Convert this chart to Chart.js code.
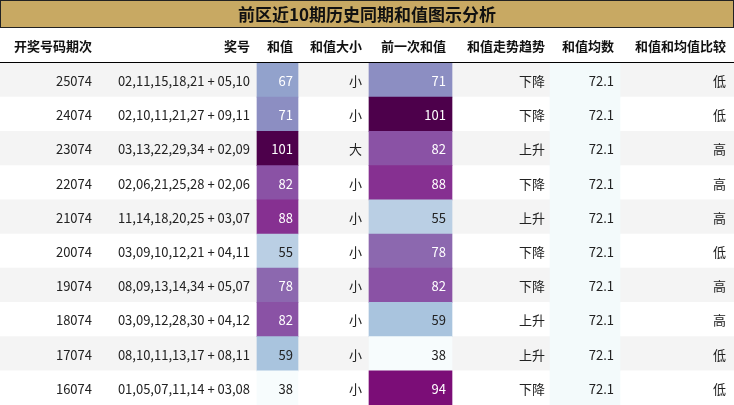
<!DOCTYPE html>
<html><head><meta charset="utf-8">
<script src="https://cdn.jsdelivr.net/npm/chart.js@4"></script>
<style>html,body{margin:0;padding:0;background:#fff}#c{display:block}</style>
</head><body>
<div style="width:734px;height:405px"><canvas id="c" width="734" height="405"></canvas></div>
<script>
const title = "前区近10期历史同期和值图示分析";
const headers = ["开奖号码期次","奖号","和值","和值大小","前一次和值","和值走势趋势","和值均数","和值和均值比较"];
const issues = ["25074","24074","23074","22074","21074","20074","19074","18074","17074","16074"];
const numbers = ["02,11,15,18,21 + 05,10","02,10,11,21,27 + 09,11","03,13,22,29,34 + 02,09","02,06,21,25,28 + 02,06","11,14,18,20,25 + 03,07","03,09,10,12,21 + 04,11","08,09,13,14,34 + 05,07","03,09,12,28,30 + 04,12","08,10,11,13,17 + 08,11","01,05,07,11,14 + 03,08"];
const sums = [67,71,101,82,88,55,78,82,59,38];
const sizes = ["小","小","大","小","小","小","小","小","小","小"];
const prevSums = [71,101,82,88,55,78,82,59,38,94];
const trends = ["下降","下降","上升","下降","上升","下降","下降","上升","上升","下降"];
const means = [72.1,72.1,72.1,72.1,72.1,72.1,72.1,72.1,72.1,72.1];
const compares = ["低","低","高","高","高","低","高","高","低","低"];

const stops = ["#f7fcfd","#e0ecf4","#bfd3e6","#9ebcda","#8c96c6","#8c6bb1","#88419d","#810f7c","#4d004b"];
function hex(h){return [1,3,5].map(i=>parseInt(h.substr(i,2),16));}
function cmap(v){
  let t=(v-38)/(101-38); t=Math.max(0,Math.min(1,t));
  const p=t*(stops.length-1), i=Math.min(Math.floor(p),stops.length-2), f=p-i;
  const a=hex(stops[i]), b=hex(stops[i+1]);
  return `rgb(${a.map((x,k)=>Math.round(x+(b[k]-x)*f)).join(",")})`;
}
const colL=[257,369], colR=[298,452];
const rows = issues.map((_,i)=>i);
const tablePlugin = {
  id:'tbl',
  afterDraw(chart){
    const ctx=chart.ctx, ys=chart.scales.y;
    ctx.save();
    // title
    ctx.fillStyle="#c8a963"; ctx.fillRect(0,0,734,28);
    ctx.strokeStyle="#222"; ctx.lineWidth=1; ctx.strokeRect(0.5,0.5,733,27);
    ctx.fillStyle="#111"; ctx.font="bold 17px 'Noto Sans CJK SC', sans-serif";
    ctx.textAlign="center"; ctx.textBaseline="middle"; ctx.fillText(title,367,15);
    // header
    ctx.font="bold 13px 'Noto Sans CJK SC', sans-serif";
    const hx=[92,250,293,362,446,545,614,726];
    headers.forEach((h,k)=>{ctx.textAlign="right"; ctx.fillText(h,hx[k],46);});
    ctx.beginPath(); ctx.moveTo(0,62.5); ctx.lineTo(734,62.5); ctx.strokeStyle="#000"; ctx.stroke();
    ctx.font="13px 'Noto Sans CJK SC', sans-serif";
    rows.forEach(i=>{
      const y=ys.getPixelForValue(i);
      const cells=[issues[i],numbers[i],String(sums[i]),sizes[i],String(prevSums[i]),trends[i],means[i].toFixed(1),compares[i]];
      cells.forEach((c,k)=>{
        let col="#222";
        if(k===2&&sums[i]>=65) col="#fff";
        if(k===4&&prevSums[i]>=65) col="#fff";
        ctx.fillStyle=col; ctx.textAlign="right"; ctx.fillText(c,hx[k],y+1);
      });
    });
    ctx.restore();
  }
};
new Chart(document.getElementById('c'),{
  type:'bar',
  data:{labels:issues,datasets:[
    {data:rows.map(()=>[0,734]),backgroundColor:rows.map(i=>i%2===0?"#f4f4f4":"#ffffff"),order:3,grouped:false,barPercentage:1,categoryPercentage:1},
    {data:rows.map(()=>[550,620]),backgroundColor:"#f3fafb",order:2,grouped:false,barPercentage:1,categoryPercentage:1},
    {data:rows.map(()=>[colL[0],colR[0]]),backgroundColor:sums.map(cmap),order:1,grouped:false,barPercentage:1,categoryPercentage:1},
    {data:rows.map(()=>[colL[1],colR[1]]),backgroundColor:prevSums.map(cmap),order:1,grouped:false,barPercentage:1,categoryPercentage:1}
  ]},
  options:{indexAxis:'y',responsive:false,animation:false,
    layout:{padding:{top:63,left:0,right:0,bottom:0}},
    plugins:{legend:{display:false},tooltip:{enabled:false}},
    scales:{x:{type:'linear',min:0,max:734,display:false},y:{display:false,offset:true}}},
  plugins:[tablePlugin]
});
</script></body></html>
